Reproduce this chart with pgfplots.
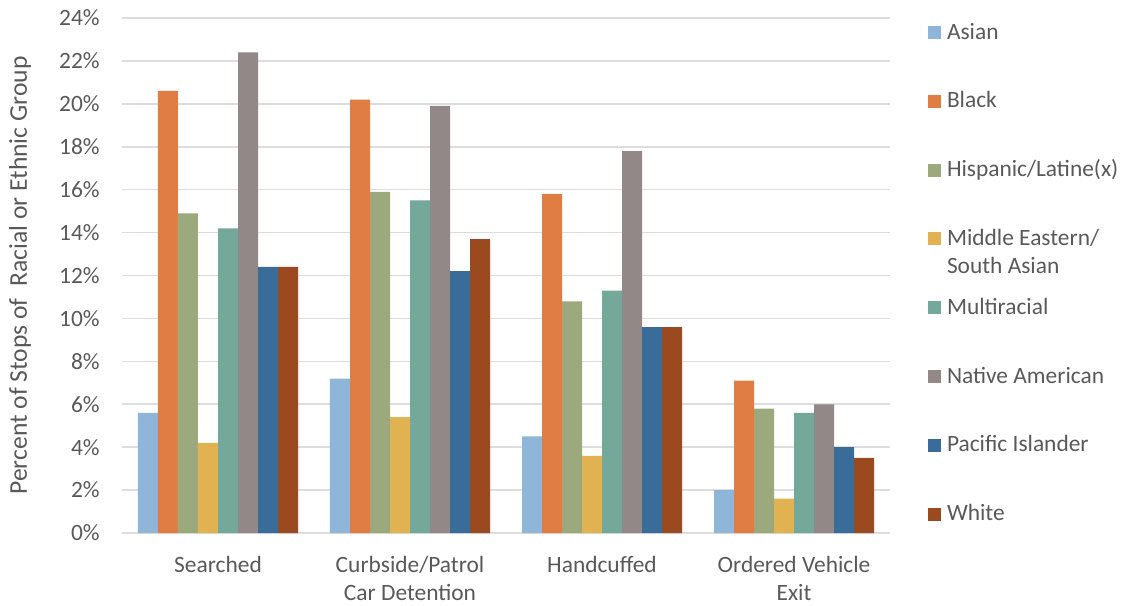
\documentclass[border=0pt]{standalone}
\usepackage{pgfplots}
\pgfplotsset{compat=1.18}
\usepackage{fontspec}
\setmainfont{Carlito}
\definecolor{cAsian}{HTML}{8FB5D8}
\definecolor{cBlack}{HTML}{E07D44}
\definecolor{cHisp}{HTML}{9CA97D}
\definecolor{cMESA}{HTML}{E0B251}
\definecolor{cMulti}{HTML}{74A89B}
\definecolor{cNative}{HTML}{928888}
\definecolor{cPI}{HTML}{3A6C9A}
\definecolor{cWhite}{HTML}{9B4A1F}
\definecolor{txt}{HTML}{595959}
\definecolor{gridc}{HTML}{DDDDDD}
\begin{document}
\begin{tikzpicture}
\path[use as bounding box] (0,0) rectangle (567.5pt,302.5pt);
\begin{axis}[
  at={(61pt,36pt)}, anchor=south west,
  scale only axis, width=384pt, height=257.5pt,
  ybar=0pt, bar width=10pt,
  xmin=-0.5, xmax=3.5, ymin=0, ymax=24,
  xtick={0,1,2,3},
  xticklabels={Searched,{Curbside/Patrol\\Car Detention},Handcuffed,{Ordered Vehicle\\Exit}},
  ytick={0,2,...,24},
  yticklabels={0\%,2\%,4\%,6\%,8\%,10\%,12\%,14\%,16\%,18\%,20\%,22\%,24\%},
  axis line style={draw=none},
  tick style={draw=none},
  ymajorgrids, grid style={gridc, line width=0.8pt},
  font=\fontsize{11.7}{14}\selectfont,
  xticklabel style={inner sep=0pt, yshift=-7pt, align=center, text=txt, font=\fontsize{11.7}{14}\selectfont},
  yticklabel style={inner sep=0pt, xshift=-11pt, text=txt, font=\fontsize{11.7}{14}\selectfont},
  ylabel={Percent of Stops of\ \ Racial or Ethnic Group},
  ylabel style={at={(axis description cs:-0.1328,0.5)}, anchor=center, text=txt, font=\fontsize{12.8}{15}\selectfont},
  legend style={at={(axis description cs:1,1)}, anchor=north west, xshift=19pt, yshift=-2.5pt,
    draw=none, fill=none, inner sep=0pt, outer sep=0pt, row sep=0pt,
    cells={anchor=base west},
    nodes={inner xsep=3pt, inner ysep=0pt, text height=8pt, text depth=26.4pt, text=txt, font=\fontsize{11.7}{14}\selectfont}},
  legend image code/.code={\fill[#1] (0pt,0pt) rectangle (6.5pt,6.5pt);},
]
\addplot[fill=cAsian, draw=none] coordinates {(0,5.6) (1,7.2) (2,4.5) (3,2.0)};
\addplot[fill=cBlack, draw=none] coordinates {(0,20.6) (1,20.2) (2,15.8) (3,7.1)};
\addplot[fill=cHisp, draw=none] coordinates {(0,14.9) (1,15.9) (2,10.8) (3,5.8)};
\addplot[fill=cMESA, draw=none] coordinates {(0,4.2) (1,5.4) (2,3.6) (3,1.6)};
\addplot[fill=cMulti, draw=none] coordinates {(0,14.2) (1,15.5) (2,11.3) (3,5.6)};
\addplot[fill=cNative, draw=none] coordinates {(0,22.4) (1,19.9) (2,17.8) (3,6.0)};
\addplot[fill=cPI, draw=none] coordinates {(0,12.4) (1,12.2) (2,9.6) (3,4.0)};
\addplot[fill=cWhite, draw=none] coordinates {(0,12.4) (1,13.7) (2,9.6) (3,3.5)};
\legend{Asian,Black,Hispanic/Latine(x),{\parbox[t]{4cm}{Middle Eastern/\\South Asian}},Multiracial,Native American,Pacific Islander,White}
\end{axis}
\end{tikzpicture}
\end{document}
